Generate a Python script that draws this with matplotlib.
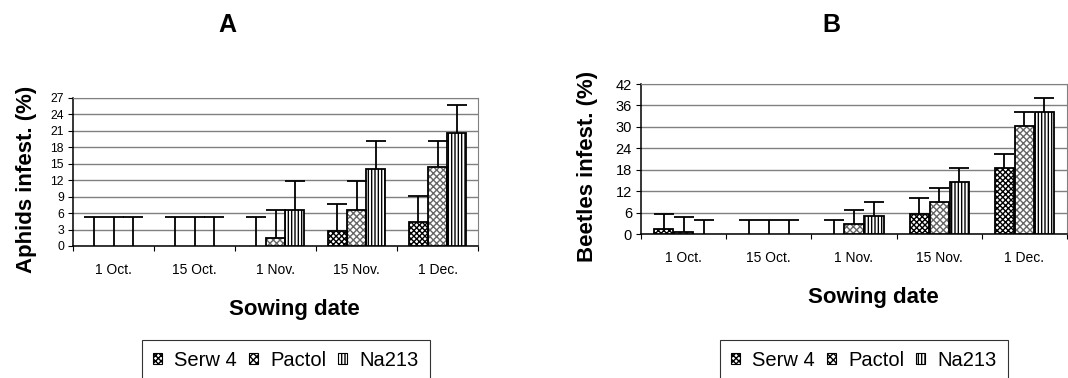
import numpy as np
import matplotlib
matplotlib.use("Agg")
import matplotlib.pyplot as plt
from matplotlib.patches import Patch

plt.rcParams['font.family'] = ['Liberation Sans', 'DejaVu Sans']

dates = ['1 Oct.', '15 Oct.', '1 Nov.', '15 Nov.', '1 Dec.']
varieties = ['Serw 4', 'Pactol', 'Na213']

# A - aphids infestation (%)
serw_a = [0, 0, 0, 2.7, 4.4]
pactol_a = [0, 0, 1.5, 6.6, 14.4]
na213_a = [0, 0, 6.6, 14.0, 20.6]
serw_a_err = [5.2, 5.2, 5.2, 5.0, 4.7]
pactol_a_err = [5.2, 5.2, 5.1, 5.2, 4.7]
na213_a_err = [5.2, 5.2, 5.2, 5.1, 5.1]

# B - beetles infestation (%)
serw_b = [1.3, 0, 0, 5.7, 18.6]
pactol_b = [0.6, 0, 2.8, 9.0, 30.3]
na213_b = [0, 0, 5.1, 14.6, 34.2]
serw_b_err = [4.3, 3.9, 3.9, 4.5, 3.8]
pactol_b_err = [4.1, 3.9, 3.9, 4.0, 3.9]
na213_b_err = [3.9, 3.9, 3.9, 3.9, 3.8]

hatches = ['xxxxxx', 'xxxxx', '|||||']
hatch_cols = ['black', '#666666', 'black']

W, H = 1068, 378
fig = plt.figure(figsize=(W / 100, H / 100), dpi=100)


def px_axes(x0, y0, x1, y1):
    return fig.add_axes([x0 / W, 1 - y1 / H, (x1 - x0) / W, (y1 - y0) / H])


def draw(ax, series, errs, ymax, ystep, ytick_fs):
    x = np.arange(len(dates))
    offs = [-0.235, 0, 0.235]
    bw = 0.225
    for i in range(3):
        vals = np.array(series[i], dtype=float)
        tops = vals + np.array(errs[i])
        ax.bar(x + offs[i], vals, bw, color='white', hatch=hatches[i],
               edgecolor=hatch_cols[i], linewidth=0, zorder=3)
        # outline only where there is a bar
        ax.bar(x + offs[i], vals, bw, fill=False,
               edgecolor=['black' if v > 0 else 'none' for v in vals],
               linewidth=1.3, zorder=4)
        # upper error bar only
        ax.vlines(x + offs[i], vals, tops, color='black', linewidth=1.3, zorder=5)
        ax.plot(x + offs[i], tops, linestyle='none', marker='_', markersize=13.7,
                markeredgewidth=1.3, color='black', zorder=5, clip_on=False)
    ax.set_xlim(-0.5, len(dates) - 0.5)
    ax.set_ylim(0, ymax)
    ax.set_yticks(np.arange(0, ymax + 0.1, ystep))
    ax.yaxis.grid(True, color='#808080', linewidth=1.0, zorder=0)
    ax.set_axisbelow(True)
    ax.set_xticks(np.arange(-0.5, len(dates)), [])
    ax.set_xticks(x, dates, minor=True)
    ax.tick_params(axis='x', which='major', length=3.5, width=0.8, direction='out')
    ax.tick_params(axis='x', which='minor', length=0, pad=12, labelsize=10)
    ax.tick_params(axis='y', length=3.5, width=0.8, pad=3, labelsize=ytick_fs)
    for s in ['top', 'right']:
        ax.spines[s].set_color('#808080')
    for s in ['left', 'bottom']:
        ax.spines[s].set_color('black')
        ax.spines[s].set_linewidth(1.1)


axA = px_axes(73, 98, 478, 246)
draw(axA, [serw_a, pactol_a, na213_a], [serw_a_err, pactol_a_err, na213_a_err],
     27, 3, 8.8)
axB = px_axes(641, 84, 1067, 234)
draw(axB, [serw_b, pactol_b, na213_b], [serw_b_err, pactol_b_err, na213_b_err],
     42, 6, 10.5)

fig.text(227 / W, 1 - 25 / H, 'A', fontsize=18, fontweight='bold', ha='center', va='center')
fig.text(831 / W, 1 - 25 / H, 'B', fontsize=18, fontweight='bold', ha='center', va='center')
fig.text(27 / W, 1 - 179 / H, 'Aphids infest. (%)', fontsize=16, fontweight='bold',
         rotation=90, ha='center', va='center')
fig.text(588 / W, 1 - 166 / H, 'Beetles infest. (%)', fontsize=16, fontweight='bold',
         rotation=90, ha='center', va='center')
fig.text(294 / W, 1 - 310 / H, 'Sowing date', fontsize=16, fontweight='bold',
         ha='center', va='center')
fig.text(873 / W, 1 - 298 / H, 'Sowing date', fontsize=16, fontweight='bold',
         ha='center', va='center')

handles = [Patch(facecolor='white', edgecolor='black', hatch=hatches[i], linewidth=0.8)
           for i in range(3)]
for lx in [142, 720]:
    leg = fig.legend(handles, varieties, loc='upper left',
                     bbox_to_anchor=(lx / W, 1 - 340 / H), ncol=3, fontsize=14.5,
                     frameon=True, fancybox=False, edgecolor='black',
                     handlelength=0.45, handleheight=0.45, handletextpad=0.6,
                     columnspacing=0.6, borderpad=0.55, borderaxespad=0)
    leg.get_frame().set_linewidth(0.8)

fig.savefig('out.png', dpi=100, facecolor='white')
